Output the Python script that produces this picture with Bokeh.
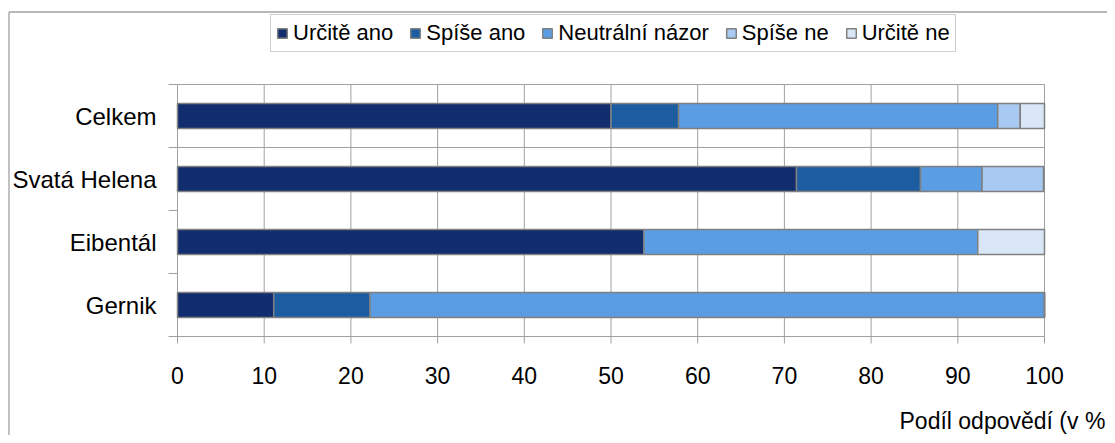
from bokeh.plotting import figure
from bokeh.models import ColumnDataSource, Legend, LegendItem, Range1d
from bokeh.core.properties import value
from bokeh.embed import file_html
from bokeh.resources import INLINE

categories = ["Celkem", "Svatá Helena", "Eibentál", "Gernik"]
series = ["Určitě ano", "Spíše ano", "Neutrální názor", "Spíše ne", "Určitě ne"]
urcite_ano = [50.0, 71.4, 53.8, 11.1]
spise_ano = [7.8, 14.3, 0.0, 11.1]
neutralni = [36.8, 7.1, 38.5, 77.8]
spise_ne = [2.6, 7.1, 0.0, 0.0]
urcite_ne = [2.8, 0.0, 7.7, 0.0]
x_ticks = [0, 10, 20, 30, 40, 50, 60, 70, 80, 90, 100]
x_tick_labels = [str(t) for t in x_ticks]
x_title = "Podíl odpovědí (v %"

colors = ["#112D6E", "#1C5DA2", "#5B9DE3", "#A8C9F1", "#D8E6F8"]
GRID = "#a0a0a0"
EDGE = "#808080"
FONT = "Liberation Sans"

# ---- canvas layout (pixels) ----
W, H = 1107, 435
FL, FR, FT, FB = 177, 1044, 84, 336          # plot-area box on the canvas
XMIN, XMAX = 0, 100
n = len(categories)
kx = (FR - FL) / (XMAX - XMIN)
ky = (FB - FT) / n
xs = XMIN - FL / kx
ys_top = n + FT / ky


def X(px):
    return xs + px / kx


def Y(py):
    return ys_top - py / ky


p = figure(width=W, height=H, output_backend="svg", toolbar_location=None,
           x_range=Range1d(X(0), X(W)), y_range=Range1d(Y(H), Y(0)),
           min_border=0, min_border_left=0, min_border_right=0,
           min_border_top=0, min_border_bottom=0)
p.axis.visible = False
p.grid.visible = False
p.outline_line_color = None

ypos = [n - i - 0.5 for i in range(n)]
bounds = list(range(n + 1))

# vertical gridlines (with outward tick marks below the axis)
p.segment(x0=x_ticks, x1=x_ticks, y0=[Y(FB + 7)] * len(x_ticks), y1=[n] * len(x_ticks),
          line_color=GRID, line_width=1)
# top and bottom edge of the plot area, and the line separating the total row
p.segment(x0=[XMIN] * 3, x1=[XMAX] * 3, y0=[0, n, n - 1], y1=[0, n, n - 1],
          line_color=GRID, line_width=1)
# category boundary ticks on the left
p.segment(x0=[X(FL - 9)] * len(bounds), x1=[XMIN] * len(bounds), y0=bounds, y1=bounds,
          line_color=GRID, line_width=1)

keys = ["s0", "s1", "s2", "s3", "s4"]
source = ColumnDataSource(dict(y=ypos, s0=urcite_ano, s1=spise_ano, s2=neutralni,
                               s3=spise_ne, s4=urcite_ne))
renderers = p.hbar_stack(keys, y="y", height=0.4, color=colors, source=source,
                         line_color=EDGE, line_width=1.5)
for r, c in zip(renderers, colors):
    r.glyph.fill_color = c
    r.glyph.line_color = EDGE

# category labels
p.text(x=[X(FL - 21)] * n, y=ypos, text=categories, text_align="right",
       text_baseline="middle", text_font=value(FONT), text_font_size="24px",
       text_color="#000000")
# x tick labels
p.text(x=x_ticks, y=[Y(FB + 39)] * len(x_ticks), text=x_tick_labels,
       text_align="center", text_baseline="middle", text_font=value(FONT),
       text_font_size="23px", text_color="#000000")
# axis title (cut at the right edge, as in the reference)
p.text(x=[X(899)], y=[Y(420)], text=[x_title], text_align="left",
       text_baseline="alphabetic", text_font=value(FONT), text_font_size="23px",
       text_color="#000000")

# outer chart border (top and left edges visible)
p.segment(x0=[X(8.5), X(8.5)], x1=[X(8.5), X(W)], y0=[Y(11.5), Y(11.5)],
          y1=[Y(H), Y(11.5)], line_color=GRID, line_width=1.3)

# legend
items = [LegendItem(label=s, renderers=[r]) for s, r in zip(series, renderers)]
LEG_H = 34
legend = Legend(items=items, orientation="horizontal",
                location=(270, H - 18 - LEG_H),
                label_text_font=FONT, label_text_font_size="22px",
                label_text_color="#000000", glyph_width=12, glyph_height=12,
                label_standoff=5, spacing=16, padding=5, margin=0,
                border_line_color=GRID, border_line_width=1,
                background_fill_color="white", background_fill_alpha=1)
p.add_layout(legend, "center")

open("out.html", "w").write(file_html(p, INLINE))
